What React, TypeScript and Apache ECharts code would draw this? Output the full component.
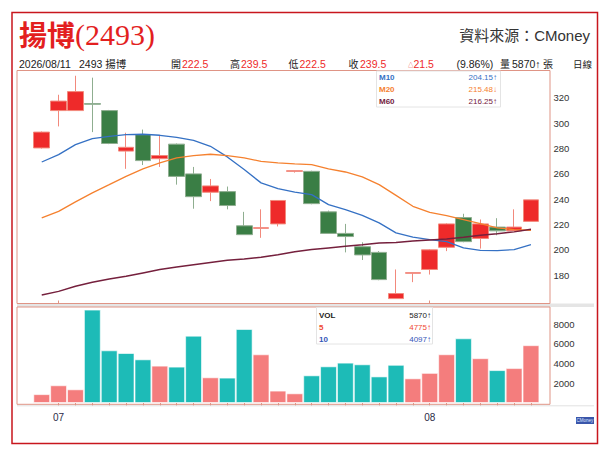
import React, { useEffect, useRef } from 'react';
import * as echarts from 'echarts';

// ---------- data ----------
const dates = [
  '2026/06/30',
  '2026/07/01', '2026/07/02', '2026/07/03', '2026/07/06', '2026/07/07', '2026/07/08', '2026/07/09',
  '2026/07/13', '2026/07/14', '2026/07/15', '2026/07/16', '2026/07/17',
  '2026/07/20', '2026/07/21', '2026/07/22', '2026/07/23', '2026/07/24',
  '2026/07/27', '2026/07/28', '2026/07/29', '2026/07/30', '2026/07/31',
  '2026/08/03', '2026/08/04', '2026/08/05', '2026/08/06', '2026/08/07', '2026/08/10', '2026/08/11',
];
const opens = [280.5, 310, 310, 315.5, 310, 278, 291, 272, 283.5, 260, 245.5, 246, 219, 217, 220.5, 262, 262, 230, 213, 202.5, 198, 161.5, 181.5, 184.5, 202, 225.5, 209, 218, 215, 222.5];
const closes = [293, 317.5, 325, 315, 284, 281, 270.5, 274.5, 258, 242, 250.5, 235, 212, 217.5, 239, 262.5, 236.5, 213, 210.5, 196, 176.5, 165.5, 182, 200, 220.5, 206.5, 220.5, 215, 218, 239.5];
const lows = [280, 297.5, 310, 293, 283.5, 264, 267, 265.5, 251.5, 232.5, 238.5, 232, 212, 209.5, 218.5, 261, 236, 213, 198, 192, 176, 161.5, 174.5, 180.5, 199, 206, 201, 211.5, 215, 222.5];
const highs = [293.5, 322.5, 337.5, 336, 310.5, 292.5, 295, 290, 284, 265.5, 256, 250, 230, 232, 239, 262.5, 262.5, 231, 220.5, 206, 199, 184.5, 182, 200.5, 221, 228.5, 224, 225, 232, 239.5];
const ma10 = [269.4, 275.2, 283.1, 287.9, 289.7, 291, 291.3, 290.5, 288.9, 286.5, 281.8, 273.4, 263.4, 252.9, 248.4, 245.6, 243.6, 235.7, 231.8, 227.3, 221.3, 213.4, 210, 208.1, 206.5, 201.5, 199.6, 199.4, 200.2, 204.15];
const ma20 = [225.2, 230.4, 237.9, 245, 251.5, 258.1, 263.9, 268.7, 272.6, 274.4, 275.5, 274.4, 272.6, 269.9, 268.7, 267.9, 267.3, 263.9, 261.5, 257.6, 251.5, 243, 234.4, 229.6, 227, 223.9, 220.7, 217.3, 216, 215.48];
const ma60 = [164.4, 167.2, 171.2, 174.4, 177, 179.1, 181.8, 184.4, 186.5, 188.3, 190.1, 191.7, 192.8, 194.1, 196.2, 198.5, 200.2, 201.5, 202.8, 204.1, 205.5, 205.9, 207, 207.8, 208.6, 209.9, 211.5, 212.8, 214.2, 216.25];
const volumes = [900, 1800, 1390, 9480, 5350, 5075, 4435, 3795, 3695, 6840, 2610, 2580, 7510, 4945, 1260, 985, 2810, 3725, 4100, 3930, 2700, 3880, 2505, 3060, 4950, 6570, 4550, 3340, 3545, 5870];
const volMA5 = 4775;
const volMA10 = 4097;
const priceTicks = [180, 200, 220, 240, 260, 280, 300, 320];
const volTicks = [2000, 4000, 6000, 8000];

const stockName = '揚博';
const stockCode = '2493';

// ---------- colors ----------
const UP = '#ee2a2a';
const DOWN = '#3a7e45';
const UP_BORDER = '#f2897c';
const DOWN_BORDER = '#8fae90';
const VOL_UP = '#f47d7d';
const VOL_DOWN = '#1dbbb7';
const FRAME = '#df9485';
const C_M10 = '#3571c4';
const C_M20 = '#f5812f';
const C_M60 = '#75203d';
const FONT = "'Liberation Sans', 'Noto Sans CJK TC', sans-serif";

const isMonthStart = (i: number) => i > 0 && dates[i].slice(5, 7) !== dates[i - 1].slice(5, 7);
const arrow = (a: number, b: number) => (a >= b ? '↑' : '↓');

export default function App() {
  const ref = useRef<HTMLDivElement>(null);

  useEffect(() => {
    if (!ref.current) return;
    const chart = echarts.init(ref.current, undefined, { renderer: 'svg' });
    const n = closes.length;
    const last = n - 1;
    const change = closes[last] - closes[last - 1];
    const pct = (change / closes[last - 1]) * 100;

    const candleData = opens.map((o, i) => [o, closes[i], lows[i], highs[i]]);
    const volData = volumes.map((v, i) => ({
      value: v,
      itemStyle: { color: i === 0 || closes[i] >= closes[i - 1] ? VOL_UP : VOL_DOWN },
    }));

    const t = (text: string, x: number, y: number, fill: string, extra: any = {}) => ({
      type: 'text',
      z: 20,
      style: { text, x, y, fill, fontSize: 10.5, fontFamily: FONT, verticalAlign: 'middle', ...extra },
    });
    const cj = { fontSize: 10 };

    const maRows = [
      { name: 'M10', v: ma10, c: C_M10 },
      { name: 'M20', v: ma20, c: C_M20 },
      { name: 'M60', v: ma60, c: C_M60 },
    ];
    const volRows = [
      { name: 'VOL', v: volumes[last], a: arrow(volumes[last], volumes[last - 1]), c: '#222' },
      { name: '5', v: volMA5, a: '↑', c: '#ef4a32' },
      { name: '10', v: volMA10, a: '↑', c: '#3556b8' },
    ];

    const graphics: any[] = [
      // outer red border
      { type: 'rect', z: 1, shape: { x: 12, y: 12.5, width: 585.5, height: 431 }, style: { fill: 'none', stroke: '#c8161d', lineWidth: 1.5 } },
      // gray band between panels
      { type: 'rect', z: 1, shape: { x: 17, y: 303.5, width: 577, height: 3.5 }, style: { fill: '#e5e5e5' } },
      { type: 'line', z: 1, shape: { x1: 17, y1: 405.8, x2: 594, y2: 405.8 }, style: { stroke: '#e2e2e2', lineWidth: 1 } },
      // panel frames
      { type: 'rect', z: 2, shape: { x: 17, y: 70.5, width: 533, height: 233 }, style: { fill: 'none', stroke: FRAME, lineWidth: 1 } },
      { type: 'rect', z: 2, shape: { x: 17, y: 307, width: 533, height: 97.3 }, style: { fill: 'none', stroke: FRAME, lineWidth: 1 } },
      // title
      {
        type: 'text', z: 20,
        style: {
          text: `{a|${stockName}}{b|(${stockCode})}`,
          x: 19, y: 34, verticalAlign: 'middle',
          rich: {
            a: { fontSize: 28, fontWeight: 'bold', fontFamily: "'Noto Sans CJK TC', sans-serif", fill: '#e31f1f' },
            b: { fontSize: 30, fontFamily: "'Liberation Serif', serif", fill: '#e31f1f' },
          },
        },
      },
      t('資料來源：CMoney', 590, 35, '#333', { fontSize: 15, align: 'right' }),
      // info line
      t(dates[last], 19, 64, '#222'),
      t(`${stockCode} ${stockName}`, 79, 64, '#222'),
      t('開', 171, 64, '#222', cj),
      t(opens[last].toFixed(1), 182, 64, UP),
      t('高', 230, 64, '#222', cj),
      t(highs[last].toFixed(1), 241, 64, UP),
      t('低', 288.5, 64, '#222', cj),
      t(lows[last].toFixed(1), 299.5, 64, UP),
      t('收', 348.5, 64, '#222', cj),
      t(closes[last].toFixed(1), 360, 64, UP),
      t('△', 408, 65, UP, { fontSize: 5.5 }),
      t(change.toFixed(1), 413.5, 64, UP),
      t(`(${pct.toFixed(2)}%)`, 456.5, 64, '#222'),
      t('量', 500, 64, '#222', cj),
      t(`${volumes[last]}↑`, 512, 64, '#222'),
      t('張', 543, 64, '#222', cj),
      t('日線', 573, 64, '#222', { fontSize: 9.5 }),
      // MA legend box
      { type: 'rect', z: 15, shape: { x: 376.5, y: 71, width: 124, height: 36 }, style: { fill: 'rgba(255,255,255,0.92)', stroke: '#e4e4e4', lineWidth: 1 } },
      ...maRows.flatMap((r, k) => [
        t(r.name, 379, 77 + k * 12.3, r.c, { fontSize: 8, fontWeight: 'bold' }),
        t(`${r.v[last].toFixed(2)}${arrow(r.v[last], r.v[last - 1])}`, 497, 77 + k * 12.3, r.c, { fontSize: 8, align: 'right' }),
      ]),
      // VOL legend box
      { type: 'rect', z: 15, shape: { x: 316.5, y: 307.5, width: 116, height: 36.5 }, style: { fill: 'rgba(255,255,255,0.92)', stroke: '#e4e4e4', lineWidth: 1 } },
      ...volRows.flatMap((r, k) => [
        t(r.name, 319, 315 + k * 12, r.c, { fontSize: 8, fontWeight: 'bold' }),
        t(`${r.v}${r.a}`, 431, 315 + k * 12, r.c, { fontSize: 8, align: 'right' }),
      ]),
      // CMoney badge
      { type: 'rect', z: 15, shape: { x: 576, y: 417, width: 18, height: 7 }, style: { fill: '#3a56aa' } },
      t('CMoney', 585, 420.6, '#dfe6ff', { fontSize: 4.5, align: 'center' }),
    ];

    const option: any = {
      animation: false,
      backgroundColor: '#ffffff',
      grid: [
        { left: 33.3, width: 506.1, top: 72.6, height: 227.9 },
        { left: 33.3, width: 506.1, top: 304.5, height: 98.5 },
      ],
      xAxis: [
        {
          type: 'category', gridIndex: 0, data: dates, boundaryGap: true,
          axisLine: { show: false },
          axisTick: { show: true, alignWithLabel: true, interval: (i: number) => isMonthStart(i), length: 5, lineStyle: { color: FRAME } },
          axisLabel: { show: false },
          splitLine: { show: false },
        },
        {
          type: 'category', gridIndex: 1, data: dates, boundaryGap: true, offset: 1,
          axisLine: { show: false },
          axisTick: { show: true, alignWithLabel: true, interval: (i: number) => i >= 1, length: 3, lineStyle: { color: FRAME } },
          axisLabel: {
            show: true, interval: (i: number) => isMonthStart(i),
            formatter: (v: string) => v.slice(5, 7),
            margin: 8, fontSize: 10, color: '#2b2b48', fontFamily: FONT,
          },
          splitLine: { show: false },
        },
      ],
      yAxis: [
        {
          type: 'value', gridIndex: 0, position: 'right', min: 160, max: 340, interval: 20,
          splitLine: { show: false }, axisLine: { show: false }, axisTick: { show: false },
          axisLabel: {
            margin: 14, fontSize: 9.5, color: '#333', fontFamily: FONT,
            formatter: (v: number) => (priceTicks.includes(v) ? String(v) : ''),
          },
        },
        {
          type: 'value', gridIndex: 1, position: 'right', min: 0, max: 10000, interval: 2000,
          splitLine: { show: false }, axisLine: { show: false }, axisTick: { show: false },
          axisLabel: {
            margin: 14, fontSize: 9.5, color: '#333', fontFamily: FONT,
            formatter: (v: number) => (volTicks.includes(v) ? String(v) : ''),
          },
        },
      ],
      series: [
        {
          type: 'candlestick', xAxisIndex: 0, yAxisIndex: 0, data: candleData, barWidth: '96%',
          itemStyle: { color: UP, color0: DOWN, borderColor: UP_BORDER, borderColor0: DOWN_BORDER, borderWidth: 1 },
        },
        { type: 'line', xAxisIndex: 0, yAxisIndex: 0, data: ma10, symbol: 'none', lineStyle: { color: C_M10, width: 1.3 }, z: 3 },
        { type: 'line', xAxisIndex: 0, yAxisIndex: 0, data: ma20, symbol: 'none', lineStyle: { color: C_M20, width: 1.3 }, z: 3 },
        { type: 'line', xAxisIndex: 0, yAxisIndex: 0, data: ma60, symbol: 'none', lineStyle: { color: C_M60, width: 1.5 }, z: 3 },
        {
          type: 'bar', xAxisIndex: 1, yAxisIndex: 1, data: volData, barCategoryGap: '0%',
          itemStyle: { borderColor: 'rgba(255,255,255,0.6)', borderWidth: 1 },
        },
      ],
      graphic: graphics,
    };
    chart.setOption(option);
    return () => chart.dispose();
  }, []);

  return (
    <div
      ref={ref}
      style={{ position: 'fixed', left: 0, top: 0, width: 612, height: 453, background: '#fff' }}
    />
  );
}
